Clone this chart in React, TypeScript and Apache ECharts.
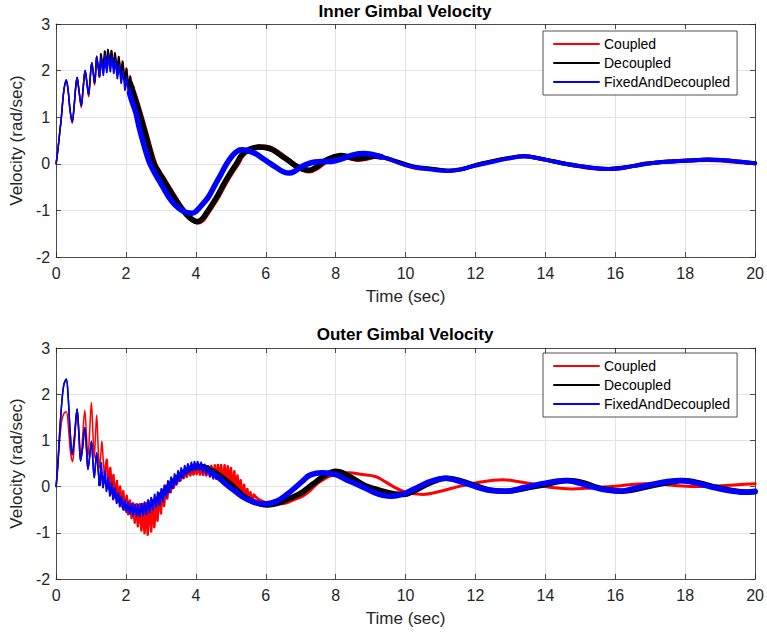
import React, { useEffect, useRef } from "react";
import * as echarts from "echarts";

const FONT = '"Liberation Sans", Arial, Helvetica, sans-serif';
const NAMES = ["Coupled", "Decoupled", "FixedAndDecoupled"];
const COLORS = ["#ff0000", "#000000", "#0000ff"];
const X_TICKS = { min: 0, max: 20, interval: 2 };
const Y_TICKS = { min: -2, max: 3, interval: 1 };
const TITLES = ["Inner Gimbal Velocity", "Outer Gimbal Velocity"];

// ---------- Inner gimbal (top) ----------
const topRedThin = [[0,0],[0.05,0.3],[0.1,0.65],[0.15,1.0],[0.19,1.35],[0.23,1.62],[0.29,1.8],[0.34,1.6],[0.4,1.12],[0.46,0.87],[0.51,1.17],[0.56,1.63],[0.6,1.85],[0.65,1.58],[0.72,1.21],[0.77,1.58],[0.83,2.0],[0.88,1.73],[0.93,1.44],[0.97,1.78],[1.02,2.17],[1.06,1.96],[1.1,1.69],[1.13,1.93],[1.16,2.31],[1.2,2.08],[1.24,1.86]];
const topRedZig = [[1.24,1.86],[1.29,2.34],[1.35,1.95],[1.4,2.4],[1.45,2.02],[1.49,2.43],[1.55,2.05],[1.59,2.42],[1.65,2.03],[1.69,2.36],[1.75,1.96],[1.8,2.28],[1.86,1.86],[1.91,2.18],[1.97,1.74],[2.02,2.03],[2.08,1.6],[2.13,1.85],[2.19,1.45],[2.23,1.62]];
const topRedThick = [[2.12,1.74],[2.2,1.56],[2.3,1.33],[2.44,0.98],[2.58,0.61],[2.7,0.28],[2.82,-0.01],[2.97,-0.21],[3.1,-0.36],[3.24,-0.54],[3.39,-0.72],[3.57,-0.93],[3.74,-1.09],[3.9,-1.2],[4.05,-1.25],[4.19,-1.2],[4.32,-1.06],[4.47,-0.89],[4.62,-0.71],[4.77,-0.5],[4.92,-0.3],[5.07,-0.12],[5.18,0.0],[5.32,0.18],[5.47,0.28],[5.62,0.33],[5.82,0.36],[6.02,0.35],[6.22,0.3],[6.47,0.17],[6.65,0.07],[6.87,-0.05],[7.07,-0.12],[7.26,-0.15],[7.47,-0.08],[7.72,0.06],[7.97,0.14],[8.16,0.17],[8.37,0.14],[8.62,0.1],[8.87,0.12],[9.12,0.16],[9.3,0.15]];
const topRedTail = [[9.3,0.15],[9.6,0.08],[10.0,-0.03],[10.3,-0.09],[10.7,-0.11],[11.27,-0.15],[11.6,-0.12],[12.0,-0.03],[12.59,0.07],[13.0,0.13],[13.4,0.16],[13.8,0.12],[14.0,0.09],[14.57,0.0],[15.0,-0.06],[15.4,-0.1],[15.8,-0.11],[16.1,-0.1],[16.5,-0.05],[16.84,0.0],[17.2,0.03],[17.6,0.05],[18.1,0.07],[18.64,0.08],[19.0,0.07],[19.5,0.04],[20,0.01]];

const topBlackThin = [[0,0],[0.05,0.3],[0.1,0.65],[0.15,1.0],[0.19,1.35],[0.23,1.62],[0.29,1.8],[0.34,1.6],[0.4,1.15],[0.46,0.9],[0.51,1.2],[0.56,1.65],[0.6,1.85],[0.65,1.6],[0.72,1.25],[0.77,1.6],[0.83,2.0],[0.88,1.75],[0.93,1.48],[0.97,1.8],[1.02,2.17],[1.06,1.98],[1.1,1.73],[1.13,1.95],[1.16,2.31],[1.2,2.1],[1.24,1.9]];
const topBlackZig = [[1.24,1.9],[1.28,2.36],[1.34,1.98],[1.39,2.42],[1.44,2.05],[1.48,2.45],[1.54,2.08],[1.58,2.43],[1.64,2.07],[1.68,2.38],[1.74,2.0],[1.79,2.3],[1.85,1.9],[1.9,2.2],[1.96,1.78],[2.01,2.05],[2.07,1.65],[2.12,1.88],[2.18,1.5],[2.22,1.65]];
const topBlackThick = [[2.1,1.75],[2.18,1.58],[2.28,1.35],[2.42,1.0],[2.56,0.63],[2.68,0.3],[2.8,0.0],[2.95,-0.2],[3.08,-0.35],[3.22,-0.53],[3.37,-0.71],[3.55,-0.92],[3.72,-1.08],[3.88,-1.19],[4.03,-1.24],[4.17,-1.19],[4.3,-1.06],[4.45,-0.89],[4.6,-0.71],[4.75,-0.5],[4.9,-0.3],[5.05,-0.12],[5.16,0.0],[5.3,0.18],[5.45,0.28],[5.6,0.33],[5.8,0.36],[6.0,0.35],[6.2,0.3],[6.45,0.17],[6.63,0.08],[6.85,-0.04],[7.05,-0.11],[7.24,-0.14],[7.45,-0.07],[7.7,0.07],[7.95,0.15],[8.14,0.18],[8.35,0.15],[8.6,0.11],[8.85,0.13],[9.1,0.17],[9.3,0.15]];
const topBlackTail = [[9.3,0.15],[9.6,0.09],[10.0,-0.01],[10.3,-0.07],[10.7,-0.1],[11.27,-0.15],[11.6,-0.12],[12.0,-0.03],[12.59,0.07],[13.0,0.13],[13.4,0.16],[13.8,0.12],[14.0,0.09],[14.57,0.0],[15.0,-0.05],[15.4,-0.09],[15.8,-0.11],[16.1,-0.09],[16.5,-0.05],[16.84,0.0],[17.2,0.03],[17.6,0.05],[18.1,0.07],[18.64,0.09],[19.0,0.08],[19.5,0.05],[20,0.01]];

const topBlueThin = [[0,0],[0.05,0.3],[0.1,0.65],[0.15,1.0],[0.19,1.35],[0.23,1.62],[0.29,1.8],[0.34,1.6],[0.4,1.15],[0.46,0.9],[0.51,1.2],[0.56,1.65],[0.6,1.85],[0.65,1.6],[0.72,1.25],[0.77,1.6],[0.83,2.0],[0.88,1.75],[0.93,1.48],[0.97,1.8],[1.02,2.17],[1.06,1.98],[1.1,1.73],[1.13,1.95],[1.16,2.31],[1.2,2.1],[1.24,1.88]];
const topBlueZig = [[1.24,1.88],[1.29,2.28],[1.35,1.9],[1.4,2.32],[1.45,1.96],[1.5,2.34],[1.55,1.98],[1.6,2.3],[1.65,1.94],[1.7,2.23],[1.75,1.83],[1.81,2.12],[1.86,1.73],[1.92,1.98],[1.97,1.58],[2.03,1.83],[2.08,1.42],[2.13,1.62],[2.18,1.25],[2.22,1.38]];
const topBlueThick = [[2.1,1.52],[2.18,1.32],[2.28,1.1],[2.37,0.8],[2.52,0.38],[2.66,0.05],[2.8,-0.17],[2.94,-0.35],[3.08,-0.53],[3.22,-0.71],[3.4,-0.88],[3.6,-1.0],[3.75,-1.05],[3.89,-1.06],[4.0,-1.02],[4.15,-0.9],[4.36,-0.71],[4.55,-0.45],[4.72,-0.22],[4.88,0.0],[5.05,0.18],[5.2,0.28],[5.32,0.3],[5.45,0.29],[5.7,0.22],[5.9,0.12],[6.06,0.04],[6.3,-0.08],[6.5,-0.17],[6.67,-0.2],[6.85,-0.15],[7.0,-0.07],[7.2,0.0],[7.4,0.04],[7.6,0.05],[7.8,0.05],[7.95,0.06],[8.2,0.11],[8.5,0.19],[8.8,0.22],[9.05,0.2],[9.3,0.15]];
const topBlueTail = [[9.3,0.15],[9.6,0.08],[10.0,-0.03],[10.4,-0.09],[10.8,-0.13],[11.2,-0.15],[11.6,-0.11],[12.0,-0.04],[12.59,0.06],[13.0,0.12],[13.4,0.16],[13.8,0.12],[14.0,0.09],[14.57,0.0],[15.0,-0.05],[15.4,-0.09],[15.8,-0.11],[16.1,-0.1],[16.5,-0.05],[16.84,-0.01],[17.2,0.03],[17.6,0.05],[18.1,0.07],[18.64,0.09],[19.0,0.08],[19.5,0.05],[20,0.01]];

// ---------- Outer gimbal (bottom) ----------
const botRedThin = [[0,0],[0.05,0.45],[0.1,1.0],[0.16,1.42],[0.22,1.58],[0.29,1.62],[0.35,1.3],[0.41,0.75],[0.47,0.54],[0.53,1.0],[0.6,1.65],[0.66,1.1],[0.71,0.62],[0.76,1.1],[0.82,1.65],[0.87,1.1],[0.91,0.65],[0.96,1.2],[1.01,1.82],[1.05,1.2],[1.09,0.62],[1.12,1.0],[1.16,1.55],[1.2,0.9],[1.24,0.4],[1.28,0.7],[1.31,0.98],[1.35,0.55],[1.38,0.29]];
const botRedZig = [[1.38,0.29],[1.45,0.58],[1.5,-0.05],[1.55,0.4],[1.6,-0.15],[1.64,0.25],[1.69,-0.25],[1.74,0.12],[1.78,-0.33],[1.83,0.0],[1.88,-0.43],[1.92,-0.1],[1.97,-0.5],[2.02,-0.2],[2.06,-0.6],[2.11,-0.3],[2.16,-0.68],[2.2,-0.36],[2.25,-0.78],[2.3,-0.38],[2.34,-0.86],[2.39,-0.38],[2.44,-0.95],[2.48,-0.38],[2.53,-1.01],[2.58,-0.36],[2.62,-1.04],[2.67,-0.33],[2.72,-0.97],[2.76,-0.29],[2.81,-0.88],[2.86,-0.24],[2.9,-0.74],[2.95,-0.15],[3.0,-0.58],[3.04,-0.07],[3.09,-0.42],[3.14,0.02],[3.18,-0.26],[3.23,0.1],[3.28,-0.12],[3.32,0.16],[3.37,-0.02],[3.42,0.22],[3.46,0.07],[3.51,0.27],[3.56,0.13],[3.6,0.31],[3.65,0.18],[3.7,0.34],[3.74,0.21],[3.79,0.37],[3.84,0.24],[3.88,0.39],[3.93,0.26],[3.98,0.41],[4.02,0.27],[4.07,0.42],[4.12,0.26],[4.16,0.43],[4.21,0.25],[4.26,0.43],[4.3,0.24],[4.35,0.44],[4.4,0.22],[4.44,0.45],[4.49,0.2],[4.54,0.46],[4.58,0.17],[4.63,0.47],[4.68,0.14],[4.72,0.47],[4.77,0.11],[4.82,0.46],[4.86,0.07],[4.91,0.44],[4.96,0.03],[5.0,0.4],[5.05,-0.03],[5.1,0.33],[5.14,-0.09],[5.19,0.24],[5.24,-0.15],[5.28,0.14],[5.33,-0.21],[5.38,0.04],[5.42,-0.26],[5.47,-0.05],[5.52,-0.3],[5.56,-0.12],[5.61,-0.32],[5.66,-0.18]];
const botRedTail = [[5.66,-0.18],[5.8,-0.28],[6.1,-0.36],[6.4,-0.37],[6.6,-0.35],[6.85,-0.27],[7.05,-0.21],[7.25,-0.1],[7.43,0.04],[7.6,0.13],[7.81,0.22],[8.1,0.28],[8.38,0.3],[8.76,0.26],[9.13,0.22],[9.3,0.16],[9.65,0.0],[10.0,-0.12],[10.5,-0.17],[11.0,-0.1],[11.5,0.0],[12.0,0.08],[12.77,0.15],[13.2,0.11],[13.6,0.06],[14.2,-0.02],[14.76,-0.05],[15.3,-0.03],[15.9,0.0],[16.4,0.04],[16.84,0.06],[17.3,0.05],[17.8,0.02],[18.36,0.0],[18.9,0.01],[19.5,0.04],[20,0.06]];

const botBlackThin = [[0,0],[0.05,0.5],[0.1,1.15],[0.16,1.8],[0.22,2.2],[0.29,2.33],[0.34,2.0],[0.4,1.2],[0.46,0.69],[0.52,1.05],[0.6,1.68],[0.65,1.15],[0.7,0.55],[0.76,0.85],[0.82,1.28],[0.87,0.8],[0.91,0.37],[0.96,0.65],[1.01,0.98],[1.05,0.58],[1.09,0.19],[1.12,0.42],[1.16,0.73],[1.2,0.38],[1.24,0.04]];
const botBlackBand = [[1.24,0.04],[1.3,0.25],[1.4,0.1],[1.5,0.0],[1.6,-0.1],[1.7,-0.2],[1.8,-0.28],[1.9,-0.36],[2.0,-0.42],[2.1,-0.47],[2.2,-0.5],[2.3,-0.52],[2.4,-0.52],[2.5,-0.49],[2.6,-0.45],[2.7,-0.4],[2.8,-0.32],[2.9,-0.25],[3.0,-0.18]];
const botBlackThick = [[3.0,-0.18],[3.2,-0.03],[3.4,0.14],[3.6,0.28],[3.8,0.38],[4.0,0.44],[4.2,0.43],[4.4,0.37],[4.6,0.28],[4.8,0.17],[5.0,0.05],[5.35,-0.2],[5.6,-0.31],[5.85,-0.38],[6.06,-0.4],[6.3,-0.37],[6.6,-0.28],[6.9,-0.18],[7.05,-0.12],[7.25,0.0],[7.43,0.1],[7.7,0.25],[8.0,0.33],[8.2,0.3],[8.57,0.14],[8.85,0.02],[9.13,-0.05],[9.4,-0.11],[9.7,-0.16],[9.94,-0.17],[10.2,-0.11],[10.7,0.08],[11.16,0.18],[11.6,0.12],[12.0,0.02],[12.4,-0.07],[12.9,-0.1],[13.4,-0.04],[13.9,0.03],[14.65,0.13],[15.1,0.08],[15.4,0.0],[15.8,-0.07],[16.2,-0.1],[16.6,-0.06],[17.1,0.03],[17.6,0.1],[17.95,0.13],[18.4,0.08],[18.8,0.0],[19.3,-0.08],[19.8,-0.12],[20,-0.11]];

const botBlueThin = [[0,0],[0.05,0.5],[0.1,1.15],[0.16,1.8],[0.22,2.2],[0.29,2.33],[0.34,2.0],[0.4,1.2],[0.46,0.69],[0.52,1.05],[0.6,1.68],[0.65,1.15],[0.7,0.55],[0.76,0.85],[0.82,1.28],[0.87,0.8],[0.91,0.37],[0.96,0.65],[1.01,0.98],[1.05,0.58],[1.09,0.19],[1.12,0.42],[1.16,0.73],[1.2,0.38],[1.24,0.04]];
const botBlueZig = [[1.24,0.04],[1.29,0.51],[1.34,-0.02],[1.4,0.33],[1.44,-0.1],[1.49,0.19],[1.54,-0.2],[1.59,0.08],[1.63,-0.28],[1.68,-0.03],[1.73,-0.36],[1.78,-0.14],[1.82,-0.43],[1.87,-0.22],[1.92,-0.5],[1.97,-0.3],[2.01,-0.55],[2.06,-0.34],[2.11,-0.59],[2.16,-0.37],[2.2,-0.62],[2.25,-0.39],[2.3,-0.64],[2.34,-0.39],[2.39,-0.64],[2.44,-0.37],[2.49,-0.62],[2.53,-0.34],[2.58,-0.6],[2.63,-0.29],[2.68,-0.56],[2.72,-0.24],[2.77,-0.5],[2.82,-0.17],[2.86,-0.44],[2.91,-0.12],[2.96,-0.4],[3.01,-0.05],[3.05,-0.32],[3.1,0.03],[3.15,-0.22],[3.2,0.12],[3.24,-0.13],[3.29,0.2],[3.34,-0.04],[3.39,0.27],[3.44,0.04],[3.49,0.34],[3.53,0.12],[3.58,0.4],[3.63,0.19],[3.68,0.45],[3.72,0.26],[3.77,0.49],[3.82,0.31],[3.87,0.52],[3.91,0.35],[3.96,0.54],[4.0,0.36],[4.05,0.54],[4.1,0.36],[4.15,0.52],[4.2,0.32],[4.25,0.48],[4.3,0.27],[4.35,0.42],[4.4,0.22],[4.45,0.37],[4.5,0.17]];
const botBlueThick = [[4.45,0.3],[4.5,0.27],[4.7,0.16],[4.88,0.04],[5.05,-0.06],[5.35,-0.23],[5.6,-0.32],[5.85,-0.37],[6.01,-0.37],[6.3,-0.32],[6.6,-0.17],[6.87,0.0],[7.05,0.12],[7.24,0.24],[7.45,0.29],[7.62,0.3],[8.0,0.26],[8.3,0.15],[8.57,0.06],[8.8,-0.02],[9.13,-0.14],[9.35,-0.19],[9.6,-0.21],[9.9,-0.17],[10.2,-0.07],[10.7,0.11],[11.16,0.18],[11.6,0.1],[12.0,0.0],[12.4,-0.08],[12.86,-0.1],[13.4,-0.02],[13.9,0.06],[14.57,0.13],[15.0,0.07],[15.3,0.0],[15.7,-0.07],[16.08,-0.1],[16.5,-0.05],[17.0,0.04],[17.5,0.11],[17.86,0.13],[18.3,0.08],[18.7,0.0],[19.2,-0.08],[19.7,-0.12],[20,-0.1]];

function mk(idx: number, data: number[][], width: number, g: number, smooth: boolean) {
  return {
    type: "line",
    name: NAMES[idx],
    data,
    xAxisIndex: g,
    yAxisIndex: g,
    symbol: "none",
    smooth: smooth ? 0.35 : false,
    silent: true,
    lineStyle: { color: COLORS[idx], width, cap: "round", join: "round" },
    itemStyle: { color: COLORS[idx] },
  };
}

const AX = "#262626";

function xAxes(g: number) {
  return [
    {
      gridIndex: g, type: "value", ...X_TICKS, position: "bottom",
      name: "Time (sec)", nameLocation: "middle", nameGap: 31,
      nameTextStyle: { fontSize: 17, color: AX, fontFamily: FONT },
      axisLine: { show: true, onZero: false, lineStyle: { color: AX, width: 0.8 } },
      axisTick: { show: true, inside: true, length: 5, lineStyle: { color: AX, width: 0.8 } },
      axisLabel: { fontSize: 16, color: AX, fontFamily: FONT, margin: 8 },
      splitLine: { show: true, lineStyle: { color: "#e3e3e3", width: 1 } },
    },
    {
      gridIndex: g, type: "value", ...X_TICKS, position: "top",
      axisLine: { show: true, onZero: false, lineStyle: { color: AX, width: 0.8 } },
      axisTick: { show: true, inside: true, length: 5, lineStyle: { color: AX, width: 0.8 } },
      axisLabel: { show: false },
      splitLine: { show: false },
    },
  ];
}

function yAxes(g: number) {
  return [
    {
      gridIndex: g, type: "value", ...Y_TICKS, position: "left",
      name: "Velocity (rad/sec)", nameLocation: "middle", nameGap: 26, nameRotate: 90,
      nameTextStyle: { fontSize: 17, color: AX, fontFamily: FONT },
      axisLine: { show: true, onZero: false, lineStyle: { color: AX, width: 0.8 } },
      axisTick: { show: true, inside: true, length: 5, lineStyle: { color: AX, width: 0.8 } },
      axisLabel: { fontSize: 16, color: AX, fontFamily: FONT, margin: 6 },
      splitLine: { show: true, lineStyle: { color: "#e3e3e3", width: 1 } },
    },
    {
      gridIndex: g, type: "value", ...Y_TICKS, position: "right",
      axisLine: { show: true, onZero: false, lineStyle: { color: AX, width: 0.8 } },
      axisTick: { show: true, inside: true, length: 5, lineStyle: { color: AX, width: 0.8 } },
      axisLabel: { show: false },
      splitLine: { show: false },
    },
  ];
}

function legend(top: number) {
  return {
    data: NAMES,
    orient: "vertical",
    left: 543,
    top,
    align: "left",
    itemWidth: 45,
    itemHeight: 14,
    itemGap: 5,
    padding: [6, 7, 6, 10],
    backgroundColor: "#ffffff",
    borderColor: AX,
    borderWidth: 0.8,
    selectedMode: false,
    itemStyle: { opacity: 0 },
    lineStyle: { width: 2, opacity: 1 },
    textStyle: { fontSize: 14, color: "#000", fontFamily: FONT },
    z: 10,
  };
}

export default function App() {
  const ref = useRef<HTMLDivElement>(null);
  useEffect(() => {
    document.body.style.margin = "0";
    if (!ref.current) return;
    const chart = echarts.init(ref.current, undefined, { renderer: "svg" });
    const xa0 = xAxes(0), xa1 = xAxes(1), ya0 = yAxes(0), ya1 = yAxes(1);
    const xAxis = [xa0[0], xa1[0], xa0[1], xa1[1]];
    const yAxis = [ya0[0], ya1[0], ya0[1], ya1[1]];
    const series = [
      mk(0, topRedThin, 1.5, 0, true),
      mk(0, topRedZig, 1.8, 0, false),
      mk(0, topRedThick, 5.5, 0, true),
      mk(0, topRedTail, 4, 0, true),
      mk(1, topBlackThin, 1.5, 0, true),
      mk(1, topBlackZig, 1.8, 0, false),
      mk(1, topBlackThick, 5.5, 0, true),
      mk(1, topBlackTail, 4, 0, true),
      mk(2, topBlueThin, 1.5, 0, true),
      mk(2, topBlueZig, 1.8, 0, false),
      mk(2, topBlueThick, 5.5, 0, true),
      mk(2, topBlueTail, 4, 0, true),
      mk(0, botRedThin, 1.5, 1, true),
      mk(0, botRedZig, 2.5, 1, false),
      mk(0, botRedTail, 3, 1, true),
      mk(1, botBlackThin, 1.5, 1, true),
      mk(1, botBlackBand, 3, 1, true),
      mk(1, botBlackThick, 5.5, 1, true),
      mk(2, botBlueThin, 1.5, 1, true),
      mk(2, botBlueZig, 2, 1, false),
      mk(2, botBlueThick, 5.5, 1, true),
    ];
    chart.setOption({
      animation: false,
      backgroundColor: "#ffffff",
      grid: [
        { left: 53, right: 9.5, top: 24, bottom: 378, containLabel: false },
        { left: 53, right: 9.5, top: 348, bottom: 56, containLabel: false },
      ],
      xAxis,
      yAxis,
      legend: [legend(31), legend(353)],
      graphic: [
        {
          type: "text", x: 405, y: 11, silent: true,
          style: { text: TITLES[0], fill: "#000", font: `bold 17px ${FONT}`, align: "center", verticalAlign: "middle", textAlign: "center", textVerticalAlign: "middle" },
        },
        {
          type: "text", x: 405, y: 334, silent: true,
          style: { text: TITLES[1], fill: "#000", font: `bold 17px ${FONT}`, align: "center", verticalAlign: "middle", textAlign: "center", textVerticalAlign: "middle" },
        },
      ],
      series,
    });
    return () => chart.dispose();
  }, []);
  return <div ref={ref} style={{ width: 767, height: 635 }} />;
}
